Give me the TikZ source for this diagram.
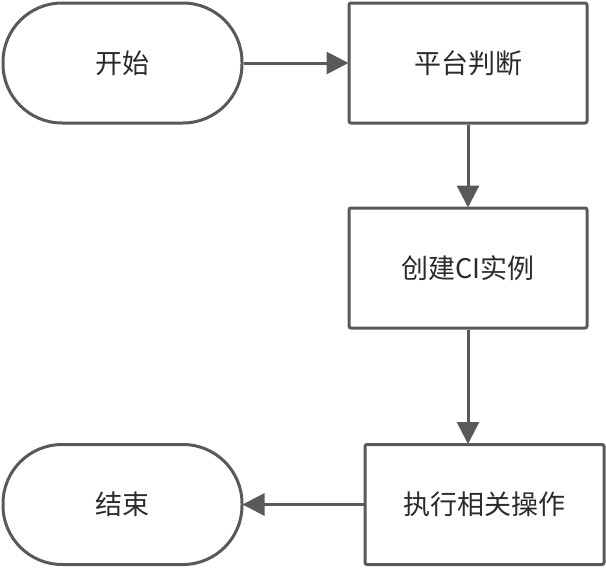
\documentclass[tikz,border=0pt]{standalone}
\usepackage{fontspec}
\setmainfont{Noto Sans CJK SC}
\usetikzlibrary{arrows.meta}
\definecolor{edge}{HTML}{595959}
\definecolor{txt}{HTML}{2B2B2B}
\tikzset{
  base/.style={draw=edge, line width=3pt, fill=white, text=txt, font=\fontsize{27}{31}\selectfont, inner sep=0pt},
  pill/.style={base, rectangle, rounded corners=59pt, minimum width=239pt, minimum height=120pt},
  stepbox/.style={base, rectangle, rounded corners=2pt, minimum width=238pt, minimum height=120pt},
  conn/.style={draw=edge, line width=3pt, -{Triangle[length=22pt,width=22pt]}, shorten >=-1pt}
}
\begin{document}
\begin{tikzpicture}[x=1pt,y=-1pt]
\useasboundingbox (0,0) rectangle (606,568);
\node[pill] (start) at (122.5,63) {开始};
\node[stepbox] (plat) at (468,63) {平台判断};
\node[stepbox] (ci) at (468,268) {创建CI实例};
\node[stepbox, minimum width=239pt] (exec) at (484.5,504.5) {执行相关操作};
\node[pill] (stop) at (122.5,504.5) {结束};
\draw[conn] (start.east) -- (plat.west);
\draw[conn] (plat.south) -- (ci.north);
\draw[conn] (ci.south) -- (ci.south |- exec.north);
\draw[conn] (exec.west) -- (stop.east);
\end{tikzpicture}
\end{document}
